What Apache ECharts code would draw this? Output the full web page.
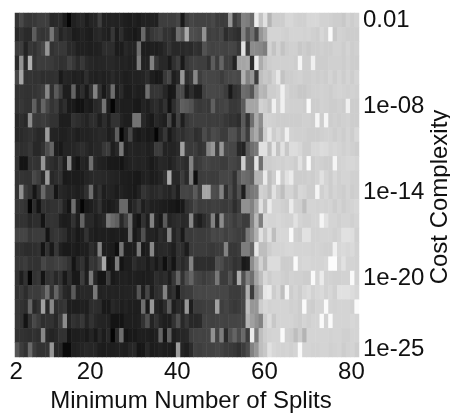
<!DOCTYPE html>
<html>
<head>
<meta charset="utf-8">
<style>html,body{margin:0;padding:0;background:#fff}#c{width:450px;height:413px}</style>
<script src="https://cdn.jsdelivr.net/npm/echarts@6/dist/echarts.min.js"></script>
</head>
<body>
<div id="c"></div>
<script>
var xTickIndex = [0, 17, 37, 57, 77];
var xTickLabels = ['2', '20', '40', '60', '80'];
var yTickLabels = {0: '0.01', 6: '1e-08', 12: '1e-14', 18: '1e-20', 23: '1e-25'};
var yCategories = ['1e-02','1e-03','1e-04','1e-05','1e-06','1e-07','1e-08','1e-09','1e-10','1e-11','1e-12','1e-13','1e-14','1e-15','1e-16','1e-17','1e-18','1e-19','1e-20','1e-21','1e-22','1e-23','1e-24','1e-25'];
var row00 = [52,72,56,54,56,62,62,62,40,42,44,28,5,32,38,40,28,36,38,62,34,34,36,34,34,30,28,32,28,34,34,34,32,62,62,62,62,70,25,62,70,66,66,66,66,72,60,60,62,150,60,75,130,125,105,235,195,225,180,205,205,205,215,215,210,208,208,215,215,215,210,210,208,205,205,200,210,205,210];
var row01 = [40,50,42,42,92,56,52,56,118,60,36,46,40,28,30,34,30,28,38,42,34,30,55,28,45,30,28,24,30,105,42,55,60,66,50,52,42,110,90,170,78,76,72,145,62,66,62,70,45,55,50,45,130,85,112,70,150,170,212,212,212,210,208,212,212,212,210,212,208,205,215,208,250,200,210,208,205,205,205];
var row02 = [60,62,35,55,50,60,72,150,50,56,56,56,42,42,32,32,32,30,32,34,45,45,45,28,28,40,35,35,110,30,30,32,30,34,42,52,40,40,40,45,42,50,46,82,70,66,68,68,66,70,68,55,225,60,140,138,135,125,210,195,210,195,205,208,208,200,205,200,205,205,208,205,205,210,210,205,212,205,208];
var row03 = [42,145,40,175,52,62,60,60,58,52,48,50,65,55,42,55,42,38,36,38,38,40,40,36,34,36,32,32,125,34,34,130,55,40,40,25,48,62,25,55,62,65,62,62,48,92,60,100,62,62,35,165,165,170,45,235,172,195,205,208,208,208,208,208,205,245,205,205,240,205,205,205,208,208,208,205,210,205,205];
var row04 = [70,165,50,52,50,52,46,48,48,50,26,38,36,32,34,30,46,34,32,36,32,34,42,34,34,30,32,34,34,36,44,30,24,26,56,70,30,40,150,45,55,135,62,72,70,70,68,60,70,72,76,72,175,130,150,60,190,200,195,210,230,195,205,205,208,210,205,205,208,205,208,205,212,205,212,205,212,205,212];
var row05 = [50,52,50,50,52,56,62,135,48,90,62,30,30,100,30,45,25,50,130,50,25,40,110,30,42,28,28,34,30,30,110,52,54,52,38,22,25,75,75,28,45,30,30,65,72,72,70,70,60,25,50,55,110,105,85,150,185,180,205,205,210,240,212,205,205,200,200,205,208,208,210,208,205,210,212,210,208,210,208];
var row06 = [50,55,50,50,95,52,100,70,52,60,36,46,26,26,18,18,30,26,40,44,115,30,5,35,30,30,30,26,25,35,30,40,45,35,50,18,46,66,95,90,82,60,56,60,56,95,62,66,70,56,56,60,90,165,165,165,210,205,195,240,208,240,210,208,208,208,205,250,205,205,210,208,205,205,208,205,240,205,205];
var row07 = [40,46,40,140,58,56,60,56,50,50,30,30,30,50,45,40,35,45,45,30,45,30,50,50,35,30,30,115,115,40,30,25,40,35,30,70,25,65,30,55,62,62,62,62,60,62,60,62,55,50,52,45,90,50,110,170,140,210,210,208,205,205,205,205,205,205,208,208,205,245,205,245,205,208,205,208,210,205,205];
var row08 = [40,42,46,50,46,40,42,155,36,35,32,32,36,36,30,34,34,36,38,42,40,30,36,95,5,36,70,30,25,30,25,28,5,35,55,25,40,50,46,55,58,46,50,75,60,75,70,60,60,80,80,60,95,60,150,170,130,205,230,205,215,205,240,210,208,208,208,205,205,205,208,210,210,205,210,205,212,205,215];
var row09 = [50,46,48,55,40,40,50,76,100,30,25,36,36,38,42,46,40,35,40,40,55,60,30,40,120,30,36,35,34,36,32,34,60,60,35,36,36,42,160,60,58,60,50,55,130,150,60,150,72,70,70,40,35,90,110,120,225,225,190,230,195,225,200,220,220,215,205,205,215,215,220,218,212,215,212,208,212,208,205];
var row10 = [50,20,20,50,52,50,150,52,46,40,55,30,135,30,20,36,32,110,40,34,32,26,26,25,20,30,34,36,34,36,32,26,32,40,38,32,40,50,48,42,130,55,60,68,68,64,64,60,60,70,68,62,205,92,90,225,110,205,205,208,210,208,212,210,205,225,205,250,205,210,208,205,205,245,210,212,215,215,212];
var row11 = [50,52,50,50,72,62,42,155,40,46,50,26,28,28,28,28,36,40,42,42,40,38,36,34,30,30,28,26,25,32,34,28,30,36,50,170,40,40,60,42,125,15,60,62,62,60,60,70,70,70,50,90,110,105,95,180,180,235,190,205,245,205,225,235,205,205,205,208,205,210,225,212,205,215,208,212,212,208,208];
var row12 = [50,145,60,50,22,46,105,60,62,22,40,36,32,34,30,34,48,110,35,50,30,36,34,28,34,30,28,25,34,52,46,40,42,48,40,36,48,30,68,70,66,90,62,165,165,78,74,130,48,75,50,80,30,110,120,125,210,205,190,225,205,190,212,212,200,215,212,205,205,245,208,215,205,212,208,205,212,205,208];
var row13 = [55,55,50,5,45,20,50,46,50,50,55,35,20,110,30,5,26,30,36,50,30,26,30,36,105,105,30,40,55,30,40,32,32,30,28,25,25,20,25,50,56,70,60,62,60,64,62,60,58,62,45,60,145,145,130,165,225,190,235,212,212,208,205,235,210,208,190,212,212,210,212,210,212,205,212,205,210,212,215];
var row14 = [50,50,50,40,46,46,20,50,52,50,32,28,30,50,30,100,40,40,30,36,42,120,105,95,40,65,110,30,20,50,30,130,36,25,90,36,42,46,40,42,135,40,30,44,55,130,40,140,70,70,60,70,60,60,130,185,125,215,212,212,215,212,210,210,225,212,208,208,212,212,245,225,212,212,208,212,212,208,212];
var row15 = [68,68,68,55,60,60,60,20,50,55,50,45,30,36,25,30,50,32,28,32,30,30,28,30,28,30,110,25,35,80,35,35,30,45,38,130,36,50,25,60,58,62,60,60,62,72,68,72,64,70,66,62,60,120,140,175,225,200,225,190,215,215,215,250,208,205,225,225,210,210,212,212,212,208,212,225,225,222,208];
var row16 = [50,48,44,44,46,50,20,50,25,55,32,26,26,30,26,30,30,45,36,130,30,30,28,15,115,30,30,30,120,25,30,135,36,40,42,38,30,50,45,28,58,60,60,60,58,56,60,60,130,55,55,60,125,125,100,230,190,190,205,212,212,212,215,215,212,212,212,212,210,212,210,208,208,240,215,218,215,218,210];
var row17 = [55,55,60,50,50,50,70,60,60,65,65,60,50,20,40,50,28,55,50,70,165,20,25,125,20,30,30,45,36,38,28,38,25,38,15,40,20,50,40,50,130,45,46,46,45,46,80,75,60,60,50,55,25,30,140,175,210,185,220,220,220,205,205,205,250,212,215,215,212,212,212,215,252,252,212,225,212,212,210];
var row18 = [50,30,50,5,50,55,20,50,55,40,50,25,45,25,25,60,30,120,40,22,22,60,25,30,32,34,30,32,30,28,30,32,45,40,45,30,55,100,50,80,100,70,66,60,66,70,120,60,60,80,50,170,80,130,110,165,190,215,205,212,212,208,205,210,208,208,205,205,250,212,235,210,210,208,208,210,210,250,210];
var row19 = [50,56,44,60,60,60,70,110,50,100,60,40,36,90,36,40,40,40,120,34,36,34,36,34,34,36,36,34,85,30,70,30,46,50,130,40,50,20,55,60,60,70,72,70,72,72,70,70,70,60,60,60,70,175,60,145,170,230,235,205,215,190,245,205,212,205,215,220,210,215,218,210,215,208,225,225,225,220,215];
var row20 = [55,50,45,100,40,50,160,40,135,45,50,55,30,30,30,32,30,45,46,44,25,25,40,35,30,35,30,30,30,110,25,150,35,30,45,90,30,42,35,150,30,60,60,62,64,62,160,62,68,60,56,60,70,190,150,150,205,215,210,212,212,212,212,208,210,205,250,208,205,212,212,250,212,210,212,212,212,208,250];
var row21 = [55,50,20,50,72,60,46,50,50,40,60,140,36,50,45,55,35,50,40,36,35,34,20,20,20,30,30,30,32,50,80,35,50,36,30,30,50,80,40,55,40,40,42,66,66,64,66,68,66,68,68,70,70,180,160,145,130,205,220,200,212,212,212,212,208,205,212,208,212,212,250,210,250,212,212,212,212,215,212];
var row22 = [50,50,48,46,50,46,135,40,36,40,50,50,22,30,30,32,26,36,24,40,28,40,5,45,110,20,25,25,30,30,30,28,32,100,20,95,30,36,38,40,62,66,68,66,68,145,66,125,42,80,100,75,105,60,235,120,190,205,210,212,212,250,208,205,190,205,180,212,212,212,212,212,210,212,212,208,208,212,212];
var row23 = [85,60,50,105,60,50,50,52,150,40,40,10,10,32,34,36,40,38,38,30,28,30,30,32,32,30,38,40,22,24,40,28,30,34,30,30,25,155,36,30,44,65,62,66,66,66,70,66,60,58,55,48,60,75,130,150,190,200,225,215,212,210,212,208,212,250,212,212,210,210,212,212,208,210,212,205,210,212,205];

var rows = [row00,row01,row02,row03,row04,row05,row06,row07,row08,row09,row10,row11,row12,row13,row14,row15,row16,row17,row18,row19,row20,row21,row22,row23];
var xCategories = row00.map(function (_, i) { return String(i + 2); });
var data = [];
rows.forEach(function (r, y) { r.forEach(function (v, x) { data.push([x, y, v]); }); });

var FONT = '"Liberation Sans", Arial, sans-serif';
var chart = echarts.init(document.getElementById('c'), null, {renderer: 'canvas'});
chart.setOption({
  animation: false,
  backgroundColor: '#fff',
  grid: {left: 15, top: 13, width: 344, height: 344, containLabel: false, outerBoundsMode: 'none'},
  xAxis: {
    type: 'category', data: xCategories, position: 'bottom',
    name: 'Minimum Number of Splits', nameLocation: 'middle', nameGap: 29,
    nameTextStyle: {fontFamily: FONT, fontSize: 24, color: '#111', padding: [0, 0, 0, 8]},
    axisLine: {show: false}, axisTick: {show: false}, splitLine: {show: false},
    axisLabel: {
      fontFamily: FONT, fontSize: 24, color: '#111', margin: 3, hideOverlap: false,
      padding: [0, 2, 0, 0],
      interval: function (i) { return xTickIndex.indexOf(i) >= 0; },
      formatter: function (v, i) { return xTickLabels[xTickIndex.indexOf(i)]; }
    }
  },
  yAxis: {
    type: 'category', data: yCategories, position: 'right', inverse: true,
    name: 'Cost Complexity', nameLocation: 'middle', nameGap: 69, nameRotate: 90, nameMoveOverlap: false,
    nameTextStyle: {fontFamily: FONT, fontSize: 24, color: '#111', padding: [0, 24, 0, 0]},
    axisLine: {show: false}, axisTick: {show: false}, splitLine: {show: false},
    axisLabel: {
      fontFamily: FONT, fontSize: 24, color: '#111', margin: 4, hideOverlap: false,
      padding: [3, 0, 0, 0],
      interval: function (i) { return yTickLabels[i] !== undefined; },
      formatter: function (v, i) { return yTickLabels[i]; }
    }
  },
  visualMap: {show: false, min: 0, max: 255, dimension: 2, seriesIndex: 0, inRange: {color: ['#000000', '#ffffff']}},
  series: [{type: 'heatmap', data: data, progressive: 0, itemStyle: {borderWidth: 0}, emphasis: {disabled: true}}]
});
</script>
</body>
</html>
